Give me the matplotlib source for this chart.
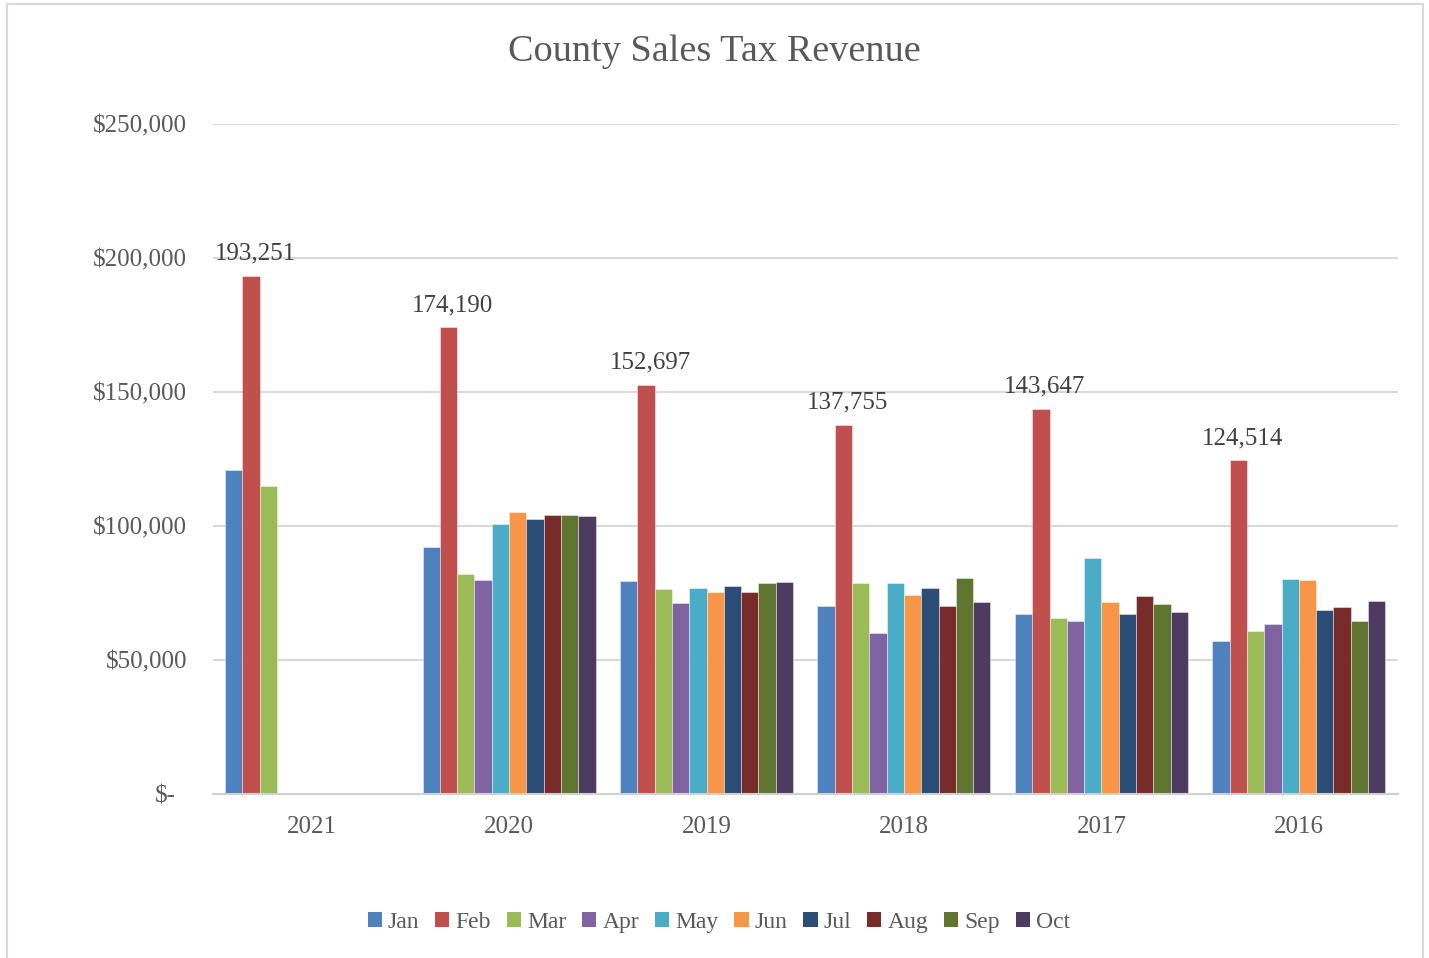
import numpy as np
import matplotlib.pyplot as plt
from matplotlib.patches import Rectangle
from matplotlib.transforms import ScaledTranslation

plt.rcParams['font.family'] = ['Liberation Serif', 'DejaVu Serif']

years = ['2021', '2020', '2019', '2018', '2017', '2016']
months = ['Jan', 'Feb', 'Mar', 'Apr', 'May', 'Jun', 'Jul', 'Aug', 'Sep', 'Oct']

nan = np.nan
jan = [121000, 92300, 79500, 70000, 67000, 57100]
feb = [193251, 174190, 152697, 137755, 143647, 124514]
mar = [115000, 82100, 76500, 78600, 65700, 60800]
apr = [nan, 79900, 71100, 60100, 64600, 63300]
may = [nan, 100700, 76700, 78600, 88200, 80200]
jun = [nan, 105300, 75200, 74100, 71600, 79900]
jul = [nan, 102500, 77600, 76700, 67000, 68700]
aug = [nan, 104100, 75200, 70000, 74000, 69900]
sep = [nan, 104000, 78600, 80700, 70900, 64600]
octo = [nan, 103700, 79000, 71500, 67900, 72000]
series = [jan, feb, mar, apr, may, jun, jul, aug, sep, octo]

colors = ['#4F81BD', '#C0504D', '#9BBB59', '#8064A2', '#4BACC6',
          '#F79646', '#2C4D75', '#772C2A', '#5F7530', '#4D3B62']

fig = plt.figure(figsize=(14.29, 9.58), dpi=100)
ax = fig.add_axes([0.149, 0.1712, 0.829, 0.6994])

x = np.arange(len(years))
w = 0.0876
for i, (vals, c, m) in enumerate(zip(series, colors, months)):
    pos = x - 5 * w + (i + 0.5) * w
    ax.bar(pos, vals, width=w, color=c, label=m,
           edgecolor=(1, 1, 1, 0.5), linewidth=0.6, zorder=3)
    if m == 'Feb':
        for xp, v in zip(pos, vals):
            ax.annotate(f'{v:,.0f}', (xp, v), xytext=(3, 8),
                        textcoords='offset points', ha='center', va='bottom',
                        fontsize=18, color='#404040')

ax.set_xlim(-0.5, 5.5)
ax.set_ylim(0, 250000)
ax.set_xticks(x)
ax.set_xticklabels(years)
ticks = [0, 50000, 100000, 150000, 200000, 250000]
ax.set_yticks(ticks)
ax.set_yticklabels(['$-'] + [f'${t:,}' for t in ticks[1:]])
ax.tick_params(length=0, labelsize=18, labelcolor='#595959')
ax.tick_params(axis='y', pad=18.5)
ax.tick_params(axis='x', pad=16)
# accounting-style zero label sits a little left of the others
zero_lbl = ax.yaxis.get_ticklabels()[0]
zero_lbl.set_transform(zero_lbl.get_transform()
                       + ScaledTranslation(-0.11, 0, fig.dpi_scale_trans))

ax.grid(axis='y', color='#d9d9d9', linewidth=1.5, zorder=0)
for s in ['top', 'right', 'left']:
    ax.spines[s].set_visible(False)
ax.spines['bottom'].set_color('#d0d0d0')
ax.spines['bottom'].set_linewidth(1.5)
ax.spines['bottom'].set_zorder(4)

fig.text(0.5, 0.946, 'County Sales Tax Revenue', ha='center', va='center',
         fontsize=27.5, color='#595959')

leg = fig.legend(loc='center', bbox_to_anchor=(0.503, 0.037), ncol=10,
                 frameon=False, fontsize=17, handlelength=0.6, handleheight=0.6,
                 handletextpad=0.25, columnspacing=0.68, labelcolor='#595959')
for h in leg.legend_handles:
    h.set_edgecolor('none')

fig.patches.append(Rectangle((7 / 1429, -0.05), 1416 / 1429, 1.05 - 4 / 958,
                             transform=fig.transFigure, fill=False,
                             edgecolor='#d9d9d9', linewidth=1.5))

fig.savefig('out.png', dpi=100)
